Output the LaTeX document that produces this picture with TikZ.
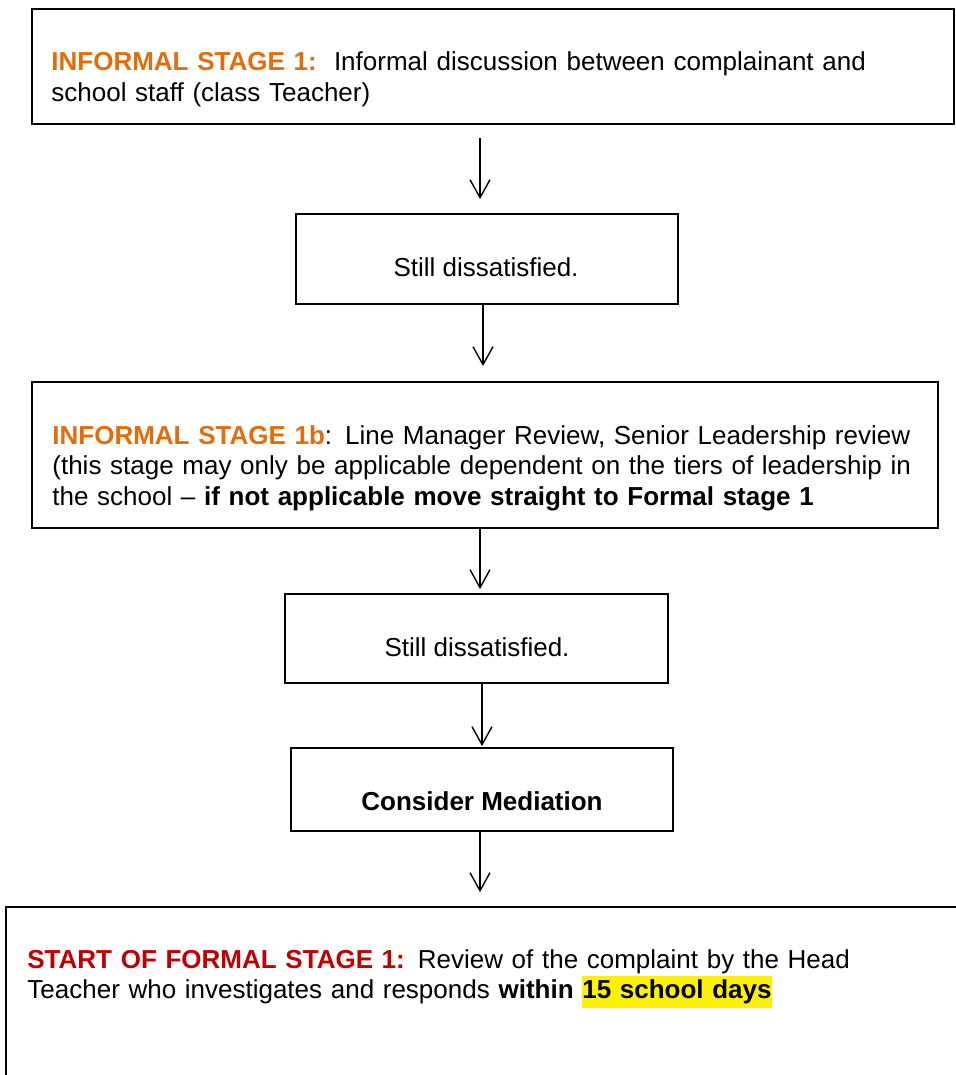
\documentclass[tikz,border=0pt]{standalone}
\usepackage{fontspec}
\setmainfont{Liberation Sans}
\usetikzlibrary{arrows.meta}
\definecolor{stageorange}{HTML}{E46C0A}
\definecolor{stagered}{HTML}{C00000}
\tikzset{
  box/.style={draw=black, line width=0.9pt, rectangle, inner sep=0pt},
  boxtext/.style={inner sep=0pt, align=left, text width=460pt, anchor=base west},
  midtext/.style={inner sep=0pt, anchor=base},
  flow/.style={-{Straight Barb[length=9pt,width=10pt]}, line width=0.7pt},
}
\begin{document}
\begin{tikzpicture}[x=0.5pt, y=-0.5pt, font=\fontsize{13}{15.25}\selectfont]
  \clip (0,0) rectangle (956,1075);

  % BOXES
  \node[box, minimum width=461pt, minimum height=57.5pt] (informal1) at (493,66.5) {};
  \node[box, minimum width=191pt, minimum height=45pt] (still1) at (487,259) {};
  \node[box, minimum width=453pt, minimum height=73pt] (informal1b) at (485,455) {};
  \node[box, minimum width=191.5pt, minimum height=44.5pt] (still2) at (476.5,638.5) {};
  \node[box, minimum width=191pt, minimum height=41.5pt] (mediation) at (482,789.5) {};
  \node[box, minimum width=497pt, minimum height=96.5pt] (formal1) at (503,1003.5) {};

  % TEXTS
  \node[boxtext] (t1) at (51,71) {\textbf{\color{stageorange}INFORMAL STAGE 1:}\ \ Informal discussion between complainant and\\
    school staff (class Teacher)};
  \node[midtext] (t2) at (486,277) {Still dissatisfied.};
  \node[boxtext] (t3) at (52,444) {\textbf{\color{stageorange}INFORMAL STAGE 1b}: Line Manager Review, Senior Leadership review\\
    (this stage may only be applicable dependent on the tiers of leadership in\\
    the school -- \textbf{if not applicable move straight to Formal stage 1}};
  \node[midtext] (t4) at (477,656) {Still dissatisfied.};
  \node[midtext] (t5) at (482,810) {\textbf{Consider Mediation}};
  \node[boxtext] (t6) at (27,968) {\textbf{\color{stagered}START OF FORMAL STAGE 1:} Review of the complaint by the Head\\
    Teacher who investigates and responds \textbf{within {\setlength{\fboxsep}{0pt}\colorbox{yellow}{\rule[-4.5pt]{0pt}{16pt}15 school days}}}};

  % ARROWS
  \coordinate (a1) at (480,0);
  \coordinate (a2) at (483,0);
  \coordinate (a3) at (480,0);
  \coordinate (a4) at (482,0);
  \coordinate (a5) at (480,0);
  \draw[flow, shorten <=6.5pt, shorten >=7pt] (informal1.south -| a1) -- (still1.north -| a1);
  \draw[flow, shorten >=7.5pt] (still1.south -| a2) -- (informal1b.north -| a2);
  \draw[flow, shorten >=2pt] (informal1b.south -| a3) -- (still2.north -| a3);
  \draw[flow, shorten >=0.5pt] (still2.south -| a4) -- (mediation.north -| a4);
  \draw[flow, shorten >=7pt] (mediation.south -| a5) -- (formal1.north -| a5);
\end{tikzpicture}
\end{document}
